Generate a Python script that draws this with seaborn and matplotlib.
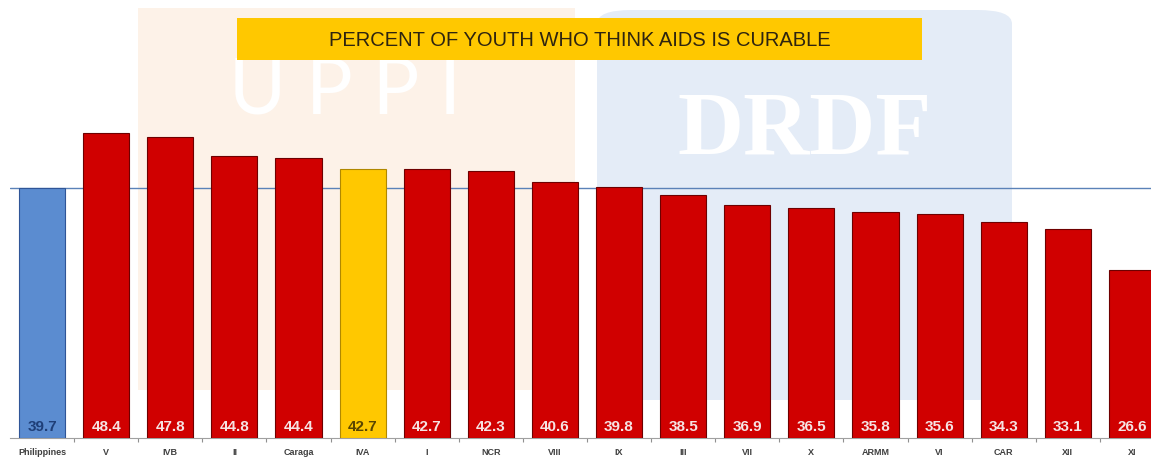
import matplotlib
matplotlib.use("Agg")
import matplotlib.pyplot as plt
from matplotlib.patches import FancyBboxPatch, Rectangle
import seaborn as sns
import pandas as pd

regions = ["Philippines", "V", "IVB", "II", "Caraga", "IVA", "I", "NCR", "VIII",
           "IX", "III", "VII", "X", "ARMM", "VI", "CAR", "XII", "XI"]
values = [39.7, 48.4, 47.8, 44.8, 44.4, 42.7, 42.7, 42.3, 40.6,
          39.8, 38.5, 36.9, 36.5, 35.8, 35.6, 34.3, 33.1, 26.6]
national_value = 39.7
title = "PERCENT OF YOUTH WHO THINK AIDS IS CURABLE"

RED = "#D00000"
BLUE = "#5B8CD0"
GOLD = "#FFC800"
bar_colors = {r: RED for r in regions}
bar_colors["Philippines"] = BLUE
bar_colors["IVA"] = GOLD
label_colors = {r: "#F6E3E3" for r in regions}
label_colors["Philippines"] = "#1F3F78"
label_colors["IVA"] = "#5A4600"

sns.set_theme(style="white")
plt.rcParams["font.family"] = ["Liberation Sans", "DejaVu Sans"]

W, H = 1151, 461
fig = plt.figure(figsize=(W / 100, H / 100), dpi=100)
fig.patch.set_facecolor("white")

# faint logo watermarks in the background
fig.patches.append(Rectangle((138 / W, 1 - 390 / H), (575 - 138) / W, (390 - 8) / H,
                             transform=fig.transFigure, facecolor="#FDF2E8",
                             edgecolor="none", zorder=0))
fig.patches.append(FancyBboxPatch((597 / W, 1 - 400 / H), (1012 - 597) / W, (400 - 10) / H,
                                  boxstyle="round,pad=0,rounding_size=0.03",
                                  transform=fig.transFigure, facecolor="#E4ECF7",
                                  edgecolor="none", zorder=0))
fig.text(345 / W, 1 - 92 / H, "U P P I", fontsize=56, color="white", ha="center",
         va="center", family=["Lato", "DejaVu Sans"], fontweight="normal", zorder=1)
fig.text(805 / W, 1 - 132 / H, "DRDF", fontsize=66, color="white", ha="center",
         va="center", family=["Liberation Serif", "DejaVu Serif"], fontweight="bold",
         zorder=1)

ax = fig.add_axes([10 / W, (H - 438) / H, 1154 / W, 438 / H])
ax.set_facecolor("none")
ax.set_zorder(3)

df = pd.DataFrame({"region": regions, "value": values})
sns.barplot(data=df, x="region", y="value", hue="region", palette=bar_colors,
            legend=False, width=0.72, ax=ax, saturation=1,
            edgecolor="#6E0000", linewidth=0.8, zorder=3)
for p, r in zip(ax.patches, regions):
    if r == "Philippines":
        p.set_edgecolor("#2F5597")
    elif r == "IVA":
        p.set_edgecolor("#B08800")

ax.axhline(national_value, color="#5B82B8", linewidth=1.0, zorder=2)

for i, (r, v) in enumerate(zip(regions, values)):
    ax.text(i, 1.7, f"{v:.1f}", ha="center", va="center", fontsize=11,
            fontweight="bold", color=label_colors[r], zorder=5)

ax.set_xlim(-0.5, len(regions) - 0.5)
ax.set_ylim(0, 69.5)
ax.set_yticks([])
ax.set_xlabel("")
ax.set_ylabel("")
ax.set_xticks(range(len(regions)))
ax.set_xticklabels(regions, fontsize=6.5, fontweight="bold", color="#404040")
ax.tick_params(axis="x", length=0, pad=7)
ax.set_xticks([i + 0.5 for i in range(len(regions) - 1)], minor=True)
ax.tick_params(axis="x", which="minor", length=3, width=0.8, color="#909090",
               direction="out", bottom=True)
for s in ["top", "right", "left"]:
    ax.spines[s].set_visible(False)
ax.spines["bottom"].set_color("#A0A0A0")
ax.spines["bottom"].set_linewidth(0.8)

# title banner
fig.patches.append(Rectangle((237 / W, 1 - 60 / H), (922 - 237) / W, 42 / H,
                             transform=fig.transFigure, facecolor="#FFC800",
                             edgecolor="none", zorder=6))
fig.text(580 / W, 1 - 40 / H, title, fontsize=14.5, color="#2E2410",
         ha="center", va="center", zorder=7)

fig.savefig("out.png", dpi=100)
